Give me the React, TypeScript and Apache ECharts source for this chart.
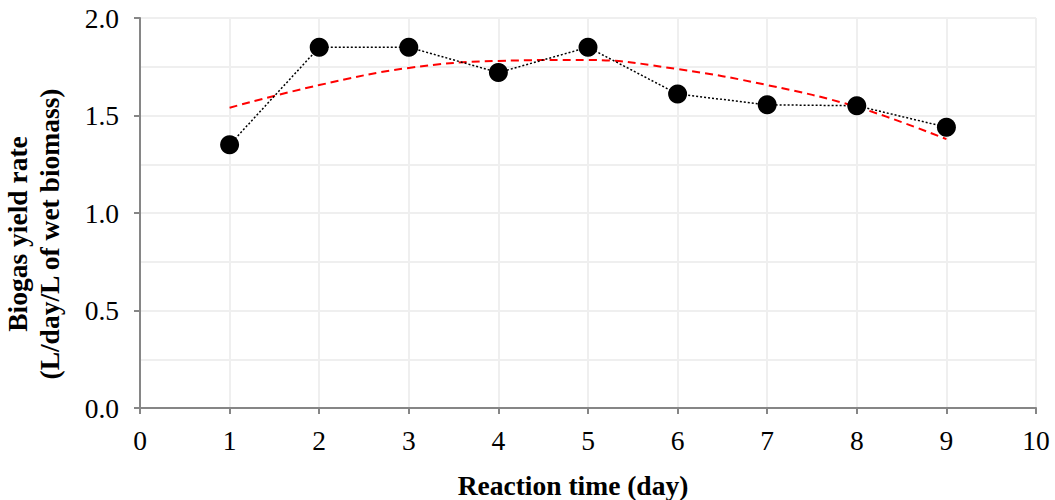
import React, { useEffect, useRef } from "react";
import * as echarts from "echarts";

const days = [1, 2, 3, 4, 5, 6, 7, 8, 9];
const yieldRate = [1.35, 1.85, 1.85, 1.72, 1.85, 1.61, 1.555, 1.55, 1.44];
const trendRate = [1.54, 1.656, 1.744, 1.78, 1.785, 1.738, 1.656, 1.544, 1.379];
const xTicks = [0, 10, 1];
const yTicks = [0, 2, 0.5];

export default function App() {
  const ref = useRef<HTMLDivElement>(null);
  useEffect(() => {
    const chart = echarts.init(ref.current!, undefined, { renderer: "svg" });
    const font = "'Liberation Serif', 'Times New Roman', serif";
    chart.setOption({
      animation: false,
      textStyle: { fontFamily: font },
      grid: {
        left: 140,
        right: 19,
        top: 18,
        bottom: 92,
        containLabel: false,
        outerBoundsMode: "none",
      },
      xAxis: {
        type: "value",
        min: xTicks[0],
        max: xTicks[1],
        interval: xTicks[2],
        name: "Reaction time (day)",
        nameLocation: "middle",
        nameGap: 63,
        nameTextStyle: {
          fontFamily: font,
          fontWeight: "bold",
          fontSize: 27.5,
          color: "#000",
          padding: [0, 30, 0, 0],
        },
        axisLine: { show: true, lineStyle: { color: "#868686", width: 2 } },
        axisTick: { show: true, length: 6, lineStyle: { color: "#868686", width: 2 } },
        axisLabel: { fontFamily: font, fontSize: 27.5, color: "#000", margin: 18 },
        splitLine: { show: true, lineStyle: { color: "#efefef", width: 2 } },
      },
      yAxis: {
        type: "value",
        min: yTicks[0],
        max: yTicks[1],
        interval: yTicks[2],
        name: "Biogas yield rate\n(L/day/L of wet biomass)",
        nameLocation: "middle",
        nameGap: 75,
        nameRotate: 90,
        nameTextStyle: {
          fontFamily: font,
          fontWeight: "bold",
          fontSize: 27.5,
          color: "#000",
          lineHeight: 32,
          padding: [0, 42, 0, 0],
        },
        axisLine: { show: true, lineStyle: { color: "#868686", width: 2 } },
        axisTick: { show: true, length: 6, lineStyle: { color: "#868686", width: 2 } },
        axisLabel: {
          fontFamily: font,
          fontSize: 27.5,
          color: "#000",
          margin: 21,
          formatter: (v: number) => v.toFixed(1),
        },
        splitLine: { show: true, lineStyle: { color: "#efefef", width: 2 } },
        minorTick: { show: false, splitNumber: 2 },
        minorSplitLine: { show: true, lineStyle: { color: "#efefef", width: 2 } },
      },
      series: [
        {
          type: "line",
          data: days.map((d, i) => [d, yieldRate[i]]),
          symbol: "circle",
          symbolSize: 19,
          itemStyle: { color: "#000" },
          lineStyle: { color: "#000", width: 1.5, type: [2, 2] },
          z: 3,
        },
        {
          type: "line",
          data: days.map((d, i) => [d, trendRate[i]]),
          symbol: "none",
          smooth: 0.4,
          lineStyle: { color: "#ff0000", width: 2, type: [8, 5] },
          z: 2,
        },
      ],
    });
    return () => chart.dispose();
  }, []);
  return <div ref={ref} style={{ width: 1055, height: 500, position: "absolute", left: 0, top: 0 }} />;
}
